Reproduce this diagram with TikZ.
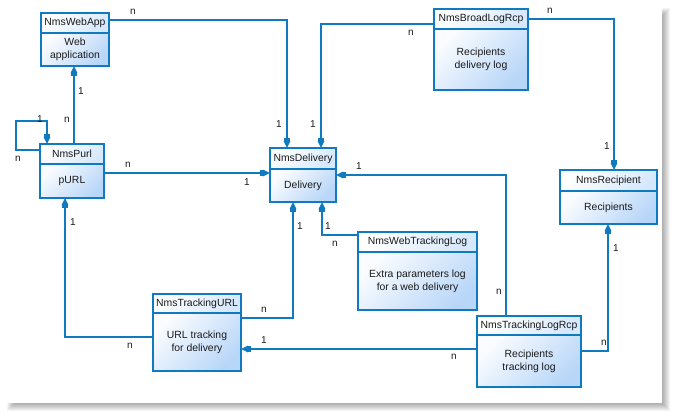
\documentclass[tikz,border=0pt]{standalone}
\usepackage{fontspec}
\setmainfont{Liberation Sans}
\usetikzlibrary{arrows.meta}
\definecolor{linkblue}{RGB}{16,122,192}
\definecolor{bodydark}{RGB}{184,214,248}
\definecolor{bodylight}{RGB}{250,252,255}
\definecolor{headdark}{RGB}{214,232,252}
\definecolor{txt}{RGB}{26,26,26}
\tikzset{
  entbox/.style={draw=linkblue, line width=1.2pt, inner sep=0pt, outer sep=0pt, anchor=north west},
  bodyshade/.style={top color=bodylight, bottom color=bodydark, shading angle=45},
  headshade/.style={top color=white, bottom color=headdark, shading angle=45},
  entitle/.style={font=\fontsize{10.4}{13}\selectfont, text=txt, inner sep=0pt},
  entbody/.style={font=\fontsize{10.4}{13}\selectfont, text=txt, align=center, inner sep=0pt},
  conn/.style={draw=linkblue, line width=1.3pt},
  tip/.style={-{Rectangle[width=6.5pt,length=3pt,sep=0pt]Triangle[width=6.5pt,length=7pt,sep=0pt]}},
  card/.style={font=\fontsize{10}{12}\selectfont, text=txt, inner sep=0pt}
}
% entity box: name, x1, y1, x2, y2, header bottom, title, body
\newcommand\entity[8]{%
  \shade[bodyshade] (#2,#6) rectangle (#4,#5);
  \shade[headshade] (#2,#3) rectangle (#4,#6);
  \draw[linkblue, line width=1.2pt] (#2,#6) -- (#4,#6);
  \node[entbox, minimum width={(#4-#2)*1pt}, minimum height={(#5-#3)*1pt}] (#1) at (#2,#3) {};
  \node[entitle] (#1-title) at ({(#2+#4)/2},{(#3+#6)/2}) {#7};
  \node[entbody] (#1-body) at ({(#2+#4)/2},{(#6+#5)/2}) {#8};
}
\begin{document}
\begin{tikzpicture}[x=1pt, y=-1pt]
\useasboundingbox (0,0) rectangle (677,418);
\fill[white] (0,0) rectangle (677,418);
% soft shadow of the sheet
\foreach \i in {0,...,7}
  \fill[black, opacity=0.045] (7+\i,8+\i) rectangle (670-\i,411-\i);
\fill[white] (5,2) rectangle (662,403);

\entity{webapp}{41}{13}{109}{66}{33}{NmsWebApp}{Web\\application}
\entity{purl}{40}{144}{104}{198}{164}{NmsPurl}{pURL}
\entity{delivery}{270}{148}{336}{202}{169}{NmsDelivery}{Delivery}
\entity{broad}{434}{9}{528}{90}{29}{NmsBroadLogRcp}{Recipients\\delivery log}
\entity{recipient}{560}{170}{657}{224}{191}{NmsRecipient}{Recipients}
\entity{webtrack}{358}{232}{477}{310}{252}{NmsWebTrackingLog}{Extra parameters log\\for a web delivery}
\entity{tlrcp}{477}{316}{581}{387}{335}{NmsTrackingLogRcp}{Recipients\\tracking log}
\entity{turl}{153}{294}{241}{371}{313}{NmsTrackingURL}{URL tracking\\for delivery}

% relations
\draw[conn,tip] (webapp.east |- 0,20) -| (287,0 |- delivery.north);
\draw[conn,tip] (broad.west |- 0,24) -| (321,0 |- delivery.north);
\draw[conn,tip] (broad.east |- 0,19) -| (614,0 |- recipient.north);
\draw[conn,tip] (74,0 |- purl.north) -- (74,0 |- webapp.south);
\draw[conn,tip] (purl.west |- 0,150) -| (16,121) -| (47,0 |- purl.north);
\draw[conn,tip] (purl.east |- 0,173) -- (delivery.west |- 0,173);
\draw[conn,tip] (turl.west |- 0,337) -| (65,0 |- purl.south);
\draw[conn,tip] (turl.east |- 0,318) -| (293,0 |- delivery.south);
\draw[conn,tip] (webtrack.west |- 0,235) -| (322,0 |- delivery.south);
\draw[conn,tip] (506,0 |- tlrcp.north) |- (delivery.east |- 0,175);
\draw[conn,tip] (tlrcp.west |- 0,349) -- (turl.east |- 0,349);
\draw[conn,tip] (tlrcp.east |- 0,351) -| (608,0 |- recipient.south);

% cardinalities
\node[card] (c1a) at (133,12) {n};  \node[card] (c1b) at (279,124) {1};
\node[card] (c2a) at (411,33) {n};  \node[card] (c2b) at (313,124) {1};
\node[card] (c3a) at (550,11) {n};  \node[card] (c3b) at (607,146) {1};
\node[card] (c4a) at (81,91) {1};   \node[card] (c4b) at (67,120) {n};
\node[card] (c5a) at (40,119) {1};  \node[card] (c5b) at (18,159) {n};
\node[card] (c6a) at (128,165) {n}; \node[card] (c6b) at (247,182) {1};
\node[card] (c7a) at (73,222) {1};  \node[card] (c7b) at (130,346) {n};
\node[card] (c8a) at (264,310) {n}; \node[card] (c8b) at (300,226) {1};
\node[card] (c9a) at (328,226) {1}; \node[card] (c9b) at (335,244) {n};
\node[card] (c10a) at (359,166) {1}; \node[card] (c10b) at (499,292) {n};
\node[card] (c11a) at (264,340) {1}; \node[card] (c11b) at (454,357) {n};
\node[card] (c12a) at (616,248) {1}; \node[card] (c12b) at (604,343) {n};
\end{tikzpicture}
\end{document}
